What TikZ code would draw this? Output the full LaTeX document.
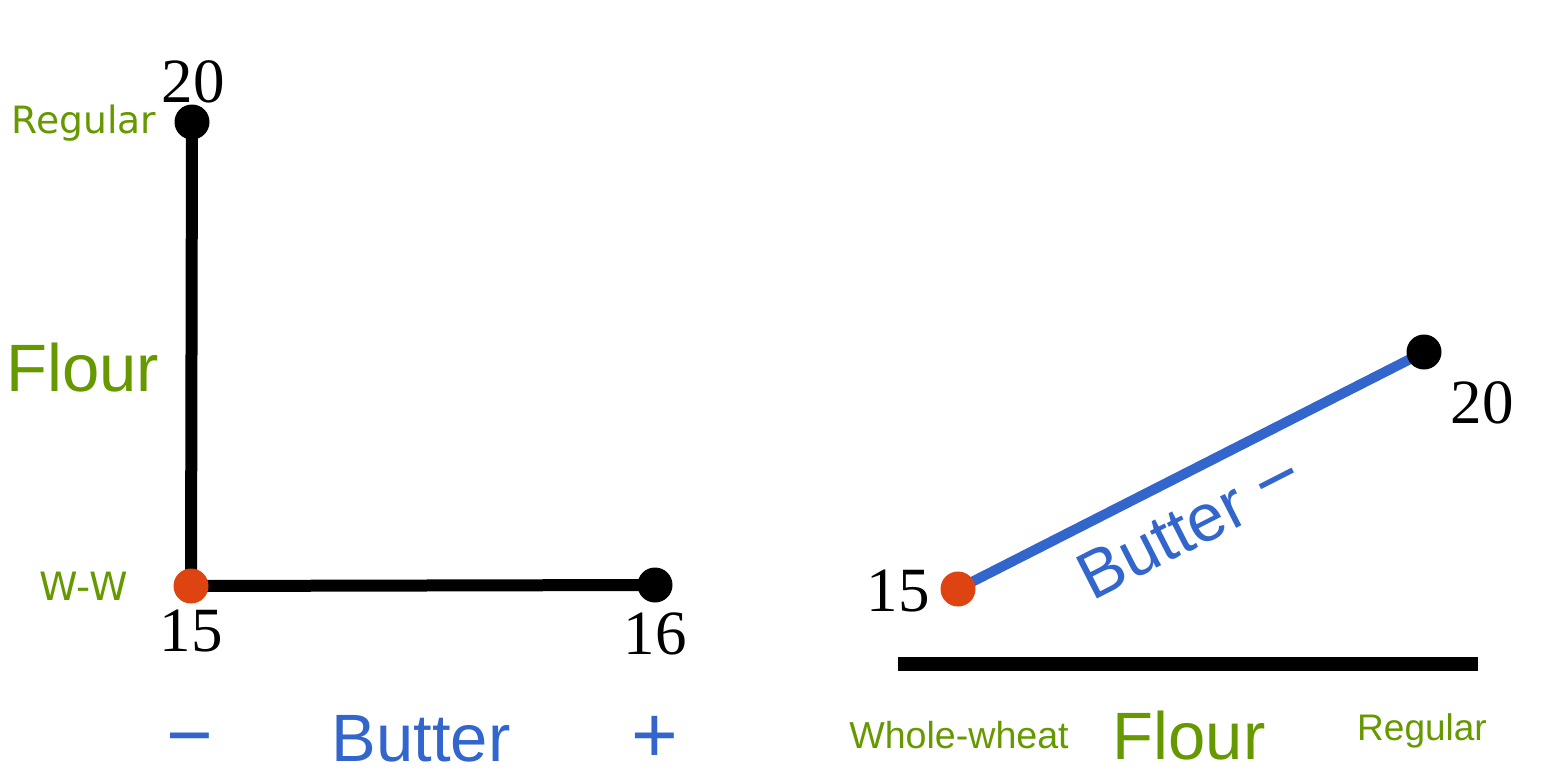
\documentclass[tikz,border=0pt]{standalone}
\usepackage{fontspec}
\setmainfont{Liberation Serif}
\newfontfamily\arialf{Liberation Sans}
\newfontfamily\verdf{DejaVu Sans}
\definecolor{fgreen}{HTML}{669900}
\definecolor{bblue}{HTML}{3366CC}
\definecolor{oorange}{HTML}{DD4411}
\begin{document}
\begin{tikzpicture}[x=0.5pt,y=-0.5pt,
  dotb/.style={circle,fill=black,inner sep=0pt,minimum size=17.5pt},
  doto/.style={circle,fill=oorange,inner sep=0pt,minimum size=17.5pt},
  num/.style={font=\fontsize{31.5}{31.5}\selectfont,inner sep=0pt},
  glab/.style={text=fgreen,inner sep=0pt},
  blab/.style={text=bblue,inner sep=0pt}]
\useasboundingbox (0,0) rectangle (1564,782);
% left diagram
\coordinate (c) at (191,586);
\coordinate (t) at (192,122);
\coordinate (r) at (655,585);
\draw[line width=6pt] (t) -- (c) -- (r);
\node[dotb] (td) at (t) {};
\node[dotb] (rd) at (r) {};
\node[doto] (cd) at (c) {};
\node[num] (n20a) at (193,82) {20};
\node[num] (n15a) at (191,631) {15};
\node[num] (n16) at (655,634) {16};
\node[glab,font=\verdf\fontsize{18.8}{18.8}\selectfont] (reg1) at (84,123) {Regular};
\node[glab,font=\verdf\fontsize{19.5}{19.5}\selectfont] (ww) at (84,586) {W-W};
\node[glab,font=\arialf\fontsize{33.5}{33.5}\selectfont] (fl1) at (83,368) {Flour};
\node[blab,font=\arialf\fontsize{33.5}{33.5}\selectfont,anchor=base] (bt1) at (421,761) {Butter};
\node[blab,font=\arialf\fontsize{40}{40}\selectfont,anchor=base] (mi) at (190,762) {−};
\node[blab,font=\arialf\fontsize{40}{40}\selectfont,anchor=base] (pl) at (655,762) {+};
% right diagram
\coordinate (o) at (958,589);
\coordinate (k) at (1424,352);
\draw[line width=5pt,bblue] (o) -- (k);
\node[doto] (od) at (o) {};
\node[dotb] (kd) at (k) {};
\node[num] (n15b) at (898,591) {15};
\node[num] (n20b) at (1482,403) {20};
\node[blab,font=\arialf\fontsize{33.5}{33.5}\selectfont,rotate=27] (bt2) at (1190,526) {Butter {\fontsize{38}{38}\selectfont −}};
\coordinate (bl) at (898,664);
\coordinate (br) at (1478,664);
\draw[line width=7pt] (bl) -- (br);
\node[glab,font=\arialf\fontsize{18.8}{18.8}\selectfont] (whw) at (959,735) {Whole-wheat};
\node[glab,font=\arialf\fontsize{33.5}{33.5}\selectfont] (fl2) at (1189,736) {Flour};
\node[glab,font=\arialf\fontsize{18.5}{18.5}\selectfont] (reg2) at (1422,731) {Regular};
\end{tikzpicture}
\end{document}
